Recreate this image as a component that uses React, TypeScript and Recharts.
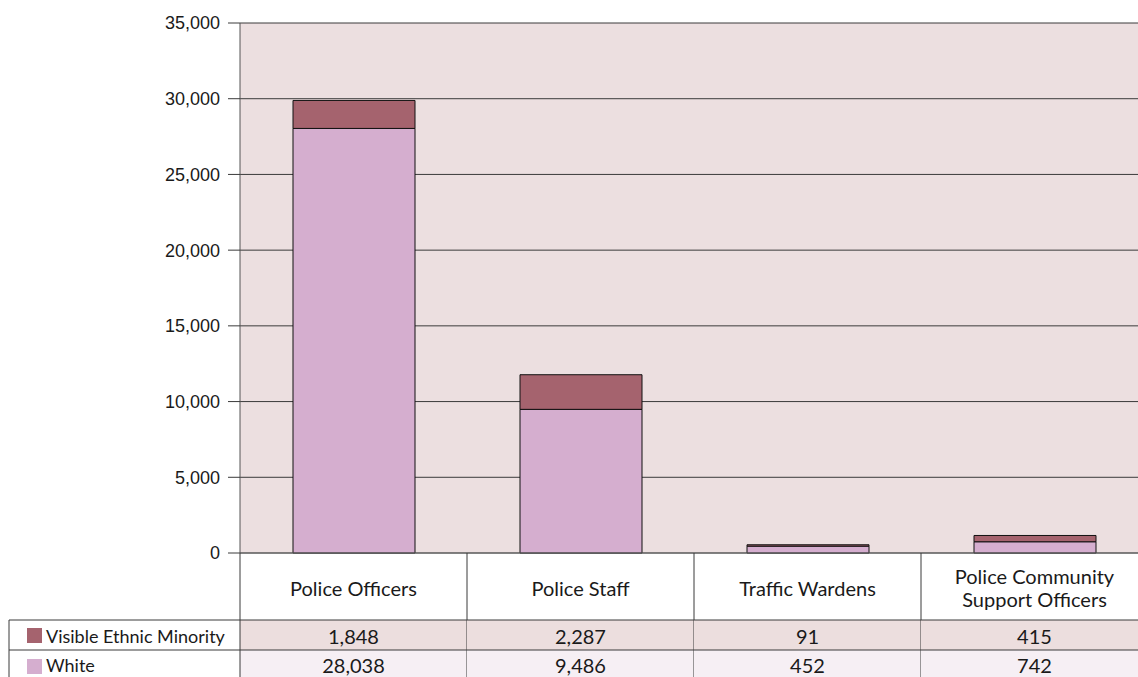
import React from 'react';
import { BarChart, Bar, XAxis, YAxis, CartesianGrid } from 'recharts';

const categories = ['Police Officers', 'Police Staff', 'Traffic Wardens', 'Police Community Support Officers'];
const headerLines = [['Police Officers'], ['Police Staff'], ['Traffic Wardens'], ['Police Community', 'Support Officers']];
const minority = [1848, 2287, 91, 415];
const white = [28038, 9486, 452, 742];
const yTicks = [0, 5000, 10000, 15000, 20000, 25000, 30000, 35000];

const data = categories.map((name, i) => ({ name, white: white[i], minority: minority[i] }));

const W = 1150;
const H = 677;
const PLOT_LEFT = 240;
const PLOT_RIGHT = 1148;
const TOP = 23;
const TABLE_H = 124;
const AXIS_Y = H - TABLE_H;
const BAND = (PLOT_RIGHT - PLOT_LEFT) / categories.length;
const ROW1 = 620;
const ROW2 = 650;
const ROW3 = 681;

const WHITE_COL = '#d5aecf';
const MINORITY_COL = '#a5636e';
const LINE = '#3a3a3a';
const TEXT = '#1a1a1a';
const TABLE_FONT = 'Lato, "Open Sans", sans-serif';

const fmt = (v: number) => v.toLocaleString('en-GB');

const TableTick = (props: any) => {
  const { x, payload } = props;
  const i = payload.index;
  const left = x - BAND / 2;
  const right = x + BAND / 2;
  const lines = headerLines[i];
  const headMid = (AXIS_Y + ROW1) / 2 + 1;
  return (
    <g fontFamily={TABLE_FONT} fontSize={20} fill={TEXT}>
      <rect x={left} y={ROW1} width={BAND} height={ROW2 - ROW1} fill="#ecdede" />
      <rect x={left} y={ROW2} width={BAND} height={ROW3 - ROW2} fill="#f6eff4" />
      {lines.map((t, k) => (
        <text
          key={k}
          x={x}
          y={headMid + (k - (lines.length - 1) / 2) * 23}
          textAnchor="middle"
          dominantBaseline="central"
          fill={TEXT}
        >
          {t}
        </text>
      ))}
      <text x={x} y={(ROW1 + ROW2) / 2 + 1} textAnchor="middle" dominantBaseline="central" fill={TEXT}>
        {fmt(minority[i])}
      </text>
      <text x={x} y={(ROW2 + ROW3) / 2 - 1} textAnchor="middle" dominantBaseline="central" fill={TEXT}>
        {fmt(white[i])}
      </text>
      <line x1={left} x2={right} y1={ROW1} y2={ROW1} stroke={LINE} />
      <line x1={left} x2={right} y1={ROW2} y2={ROW2} stroke={LINE} />
      <line x1={right} x2={right} y1={AXIS_Y} y2={ROW3} stroke={LINE} />
      {i === 0 && (
        <g fontSize={18}>
          <line x1={left} x2={left} y1={AXIS_Y} y2={ROW3} stroke={LINE} />
          <line x1={9} x2={left} y1={ROW1} y2={ROW1} stroke={LINE} />
          <line x1={9} x2={left} y1={ROW2} y2={ROW2} stroke={LINE} />
          <line x1={9} x2={9} y1={ROW1} y2={ROW3} stroke={LINE} />
          <rect x={27} y={628} width={15} height={15} fill={MINORITY_COL} />
          <text x={46} y={(ROW1 + ROW2) / 2 + 1} dominantBaseline="central" fill={TEXT}>
            Visible Ethnic Minority
          </text>
          <rect x={27} y={659} width={15} height={15} fill={WHITE_COL} />
          <text x={46} y={(ROW2 + ROW3) / 2 - 1} dominantBaseline="central" fill={TEXT}>
            White
          </text>
        </g>
      )}
    </g>
  );
};

export default function App() {
  return (
    <div style={{ position: 'absolute', left: 0, top: 0, width: 1138, height: H, overflow: 'hidden', background: '#fff' }}>
      <BarChart
        width={W}
        height={H}
        data={data}
        margin={{ top: TOP, right: W - PLOT_RIGHT, bottom: 0, left: PLOT_LEFT - 80 }}
        barSize={122}
      >
        <CartesianGrid vertical={false} stroke={LINE} fill="#ecdfe0" fillOpacity={1} />
        <XAxis
          dataKey="name"
          height={TABLE_H}
          interval={0}
          tickLine={false}
          tickSize={0}
          axisLine={{ stroke: '#666' }}
          tick={<TableTick />}
        />
        <YAxis
          width={80}
          domain={[0, 35000]}
          ticks={yTicks}
          interval={0}
          tickSize={12}
          tickMargin={8}
          tickLine={{ stroke: LINE }}
          axisLine={{ stroke: '#555' }}
          tickFormatter={fmt}
          tick={{ fill: TEXT, fontSize: 18, fontFamily: '"Liberation Sans", Arial, sans-serif' }}
        />
        <Bar dataKey="white" stackId="s" fill={WHITE_COL} stroke="#111" strokeWidth={1} isAnimationActive={false} />
        <Bar dataKey="minority" stackId="s" fill={MINORITY_COL} stroke="#111" strokeWidth={1} isAnimationActive={false} />
      </BarChart>
    </div>
  );
}
